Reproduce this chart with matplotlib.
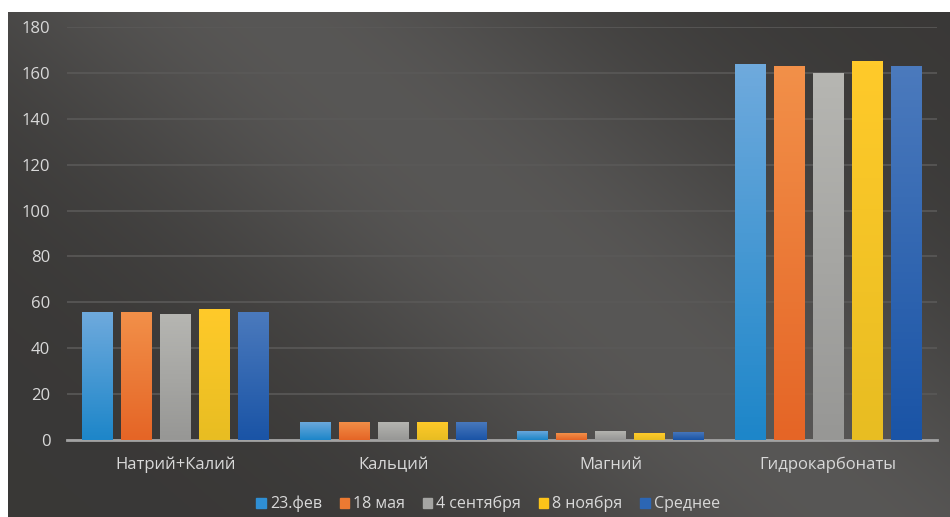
import numpy as np
import matplotlib
matplotlib.use("Agg")
import matplotlib.pyplot as plt
from matplotlib.colors import LinearSegmentedColormap
from matplotlib.patches import Rectangle

plt.rcParams['font.family'] = ['Open Sans', 'DejaVu Sans']

categories = ["Натрий+Калий", "Кальций", "Магний", "Гидрокарбонаты"]
series_names = ["23.фев", "18 мая", "4 сентября", "8 ноября", "Среднее"]
feb23 = [56, 8, 4, 164]
may18 = [56, 8, 3, 163]
sep4 = [55, 8, 4, 160]
nov8 = [57, 8, 3, 165]
mean = [56, 8, 3.5, 163]
series = [feb23, may18, sep4, nov8, mean]

# top / bottom colours for the bar gradients
bar_top = ["#6faadd", "#f29049", "#b6b6b2", "#ffca2a", "#4b7abd"]
bar_bot = ["#1d86c9", "#e56526", "#979795", "#e8bd22", "#1a54a6"]
legend_col = ["#2f8fd4", "#ec7a32", "#a5a5a3", "#fcc419", "#2c66b4"]

W, H = 950, 517
fig = plt.figure(figsize=(W / 100, H / 100), dpi=100)
fig.patch.set_facecolor("white")

# dark background with a soft diagonal sheen
bg = fig.add_axes([8 / W, 0, 1 - 8 / W, 1 - 12 / H])
bg.set_axis_off()
yy, xx = np.mgrid[0:1:200j, 0:1:300j]
t = xx * 0.8 - yy * 0.5
sheen = np.exp(-((t - 0.22) ** 2) / 0.08)
val = 0.22 + 0.12 * sheen
img = np.dstack([val + 0.005, val, val - 0.005])
bg.imshow(np.clip(img, 0, 1), aspect="auto", extent=[0, 1, 0, 1], interpolation="bilinear")
bg.set_xlim(0, 1)
bg.set_ylim(0, 1)

left, right = 67 / W, 937 / W
bottom, top = 1 - 440 / H, 1 - 27 / H
ax = fig.add_axes([left, bottom, right - left, top - bottom])
ax.patch.set_alpha(0)
ax.set_ylim(0, 180)
ax.set_yticks(np.arange(0, 181, 20))
ax.yaxis.grid(True, color="#5a5958", linewidth=1.2)
ax.set_axisbelow(True)
for s in ["top", "right", "left"]:
    ax.spines[s].set_visible(False)
ax.spines["bottom"].set_color("#a3a3a3")
ax.spines["bottom"].set_linewidth(2)
ax.tick_params(axis="both", length=0, colors="#d9d9d9", labelsize=12)
ax.tick_params(axis="y", pad=12)
ax.tick_params(axis="x", pad=12)
ax.set_xticks(range(len(categories)))
ax.set_xticklabels(categories)

width = 0.1425
step = 0.179
x = np.arange(len(categories))
for i, vals in enumerate(series):
    pos = x + (i - 2) * step
    cmap = LinearSegmentedColormap.from_list("g%d" % i, [bar_bot[i], bar_top[i]])
    bars = ax.bar(pos, vals, width, color=bar_top[i], edgecolor="none",
                  label=series_names[i], zorder=2)
    for b in bars:
        x0, y0 = b.get_x(), b.get_y()
        w, h = b.get_width(), b.get_height()
        grad = np.linspace(0, 1, 100).reshape(-1, 1)
        im = ax.imshow(grad, cmap=cmap, aspect="auto", origin="lower",
                       extent=[x0, x0 + w, y0, y0 + h], zorder=3)
        im.set_clip_path(b)

ax.set_xlim(-0.5, len(categories) - 0.5)
ax.set_ylim(0, 180)

handles = [Rectangle((0, 0), 1, 1, color=c) for c in legend_col]
leg = fig.legend(handles, series_names, loc="center", bbox_to_anchor=(488 / W, 1 - 504 / H),
                 ncol=5, frameon=False, fontsize=11.5, handlelength=0.6, handleheight=0.6,
                 handletextpad=0.25, columnspacing=1.1, labelcolor="#d9d9d9")

fig.savefig("out.png", dpi=100, facecolor=fig.get_facecolor())
